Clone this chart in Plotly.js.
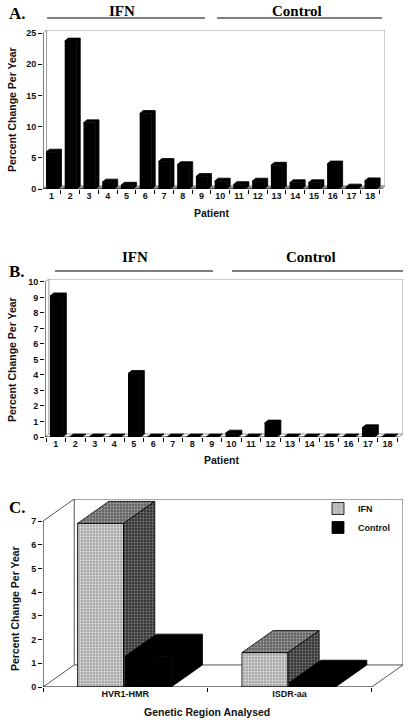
<!DOCTYPE html>
<html><head><meta charset="utf-8">
<script src="https://cdn.plot.ly/plotly-3.0.1.min.js"></script>
<style>html,body{margin:0;padding:0;background:#fff}#chart{width:411px;height:723px}</style>
</head><body><div id="chart"></div>
<script>
// ---------- DATA ----------
const patients = [1,2,3,4,5,6,7,8,9,10,11,12,13,14,15,16,17,18];
const groupNames = ['IFN', 'Control'];
const valuesA = [5.9, 23.7, 10.6, 1.1, 0.6, 12.1, 4.4, 3.9, 2.0, 1.25, 0.7, 1.25, 3.8, 1.0, 1.0, 4.0, 0.3, 1.3];
const valuesB = [9.1, 0, 0, 0, 4.1, 0, 0, 0, 0, 0.25, 0, 0.9, 0, 0, 0, 0, 0.6, 0];
const regions = ['HVR1-HMR', 'ISDR-aa'];
const ifnC = [6.9, 1.45];
const controlC = [1.3, 0.2];
const yTicksA = [0, 5, 10, 15, 20, 25];
const yTicksB = [0, 1, 2, 3, 4, 5, 6, 7, 8, 9, 10];
const yTicksC = [0, 1, 2, 3, 4, 5, 6, 7];
const panelLetters = ['A.', 'B.', 'C.'];
const yTitle = 'Percent Change Per Year';
const xTitleAB = 'Patient';
const xTitleC = 'Genetic Region Analysed';

// ---------- STYLE / GEOMETRY ----------
const W = 411, H = 723;
const px = x => x / W, py = y => 1 - y / H;
const tickFont = {family: 'Liberation Sans, Arial, sans-serif', size: 9, weight: 'bold', color: '#111'};
const titleFont = {family: 'Liberation Sans, Arial, sans-serif', size: 10.5, weight: 'bold', color: '#111'};
const serifFont = {family: 'Liberation Serif, Times New Roman, serif', size: 15, weight: 'bold', color: '#000'};

// panel 3D geometry (depth in data units)
const gA = {L: 0.542, R: 18.6, dx: 0.19, dy: 0.48, top: 25, off: -0.3, w: 0.64};
const gB = {L: 0.444, R: 18.6, dx: 0.2, dy: 0.19, top: 10, off: -0.3, w: 0.64};
const gC = {L: -0.5, R: 1.5, dx: 0.19, dy: 0.93, top: 7, offI: -0.29, offC: 0.0, w: 0.28};

function faces(xs, vs, off, w, dx, dy) {
  const top = {x: [], y: []}, side = {x: [], y: []}, solid = {x: [], y: []};
  xs.forEach((x, i) => {
    const v = vs[i], xl = x + off, xr = x + off + w;
    top.x.push(xl, xl + dx, xr + dx, xr, xl, null);
    top.y.push(v, v + dy, v + dy, v, v, null);
    side.x.push(xr, xr + dx, xr + dx, xr, xr, null);
    side.y.push(v, v + dy, dy, 0, v, null);
    solid.x.push(xl, xl + dx, xr + dx, xr + dx, xr, xr, xl, null);
    solid.y.push(v, v + dy, v + dy, dy, 0, v, v, null);
  });
  return {top, side, solid};
}
function poly(f, xa, ya, fill, lineColor, pattern) {
  const t = {x: f.x, y: f.y, xaxis: xa, yaxis: ya, type: 'scatter', mode: 'lines', fill: 'toself',
    fillcolor: fill, line: {color: lineColor, width: 0.8}, hoverinfo: 'skip', showlegend: false};
  if (pattern) t.fillpattern = pattern;
  return t;
}

const fA = faces(patients, valuesA, gA.off, gA.w, gA.dx, gA.dy);
const fB = faces(patients, valuesB, gB.off, gB.w, gB.dx, gB.dy);
const idxC = regions.map((_, i) => i);
const fCi = faces(idxC, ifnC, gC.offI, gC.w, gC.dx, gC.dy);
const fCc = faces(idxC, controlC, gC.offC, gC.w, gC.dx, gC.dy);

const dots = (bg, fg, sol) => ({shape: '.', bgcolor: bg, fgcolor: fg, size: 3, solidity: sol});

const traces = [
  // Panel A
  {type: 'bar', x: patients, y: valuesA, xaxis: 'x', yaxis: 'y', offset: gA.off, width: gA.w,
   marker: {color: '#000'}, showlegend: false, hoverinfo: 'x+y'},
  poly(fA.solid, 'x', 'y', '#000', '#000'),
  // Panel B
  {type: 'bar', x: patients, y: valuesB, xaxis: 'x2', yaxis: 'y2', offset: gB.off, width: gB.w,
   marker: {color: '#000'}, showlegend: false, hoverinfo: 'x+y'},
  poly(fB.solid, 'x2', 'y2', '#000', '#000'),
  // Panel C - IFN
  {type: 'bar', name: groupNames[0], x: idxC, y: ifnC, xaxis: 'x3', yaxis: 'y3', offset: gC.offI, width: gC.w,
   marker: {color: '#aaaaaa', line: {color: '#000', width: 0.8}, pattern: dots('#aaaaaa', '#e4e4e4', 0.3)},
   showlegend: true, hovertext: regions, hoverinfo: 'text+y'},
  poly(fCi.top, 'x3', 'y3', '#646464', '#000', dots('#646464', '#a8a8a8', 0.3)),
  poly(fCi.side, 'x3', 'y3', '#363636', '#000', dots('#363636', '#808080', 0.3)),
  // Panel C - Control (overlay so it is drawn in front)
  {type: 'bar', name: groupNames[1], x: idxC, y: controlC, xaxis: 'x3', yaxis: 'y5', offset: gC.offC, width: gC.w,
   marker: {color: '#000', line: {color: '#000', width: 0.8}}, showlegend: true, hovertext: regions, hoverinfo: 'text+y'},
  poly(fCc.solid, 'x3', 'y5', '#000', '#000'),
];

function frameShapes(g, xr, yr, floorFill, wallColor) {
  const s = [];
  if (floorFill) s.push({type: 'path', xref: xr, yref: yr, layer: 'below',
    path: `M ${g.L},0 L ${g.L + g.dx},${g.dy} L ${g.R + g.dx},${g.dy} L ${g.R},0 Z`,
    fillcolor: floorFill, line: {color: floorFill, width: 0.5}});
  s.push({type: 'rect', xref: xr, yref: yr, layer: 'below', x0: g.L + g.dx, x1: g.R + g.dx, y0: g.dy, y1: g.top + g.dy,
    line: {color: wallColor, width: 1}});
  s.push({type: 'line', xref: xr, yref: yr, x0: g.L, y0: g.top, x1: g.L + g.dx, y1: g.top + g.dy, line: {color: wallColor, width: 1}});
  s.push({type: 'line', xref: xr, yref: yr, x0: g.L, y0: 0, x1: g.L + g.dx, y1: g.dy, line: {color: wallColor, width: 1}});
  s.push({type: 'line', xref: xr, yref: yr, x0: g.R, y0: 0, x1: g.R + g.dx, y1: g.dy, line: {color: wallColor, width: 1}});
  s.push({type: 'line', xref: xr, yref: yr, x0: g.L, y0: 0, x1: g.L, y1: g.top, line: {color: '#000', width: 1}});
  s.push({type: 'line', xref: xr, yref: yr, x0: g.L, y0: 0, x1: g.R, y1: 0, line: {color: '#000', width: 1}});
  return s;
}
const hline = (x0, x1, y) => ({type: 'line', xref: 'paper', yref: 'paper', x0: px(x0), x1: px(x1), y0: py(y), y1: py(y),
  line: {color: '#000', width: 1.2}});

const shapes = [].concat(
  frameShapes(gA, 'x', 'y', '#8c8c8c', '#9a9a9a'),
  frameShapes(gB, 'x2', 'y2', null, '#9a9a9a'),
  frameShapes(gC, 'x3', 'y3', null, '#555'),
  [hline(47, 205, 18), hline(217, 382, 18), hline(55, 213, 271), hline(232, 403, 271)]
);

const ann = (text, x, y, font, opts) => Object.assign({text, x: px(x), y: py(y), xref: 'paper', yref: 'paper',
  showarrow: false, font, xanchor: 'center', yanchor: 'middle'}, opts || {});
const letterFont = Object.assign({}, serifFont, {size: 17});
const annotations = [
  ann(panelLetters[0], 7, 13, letterFont, {xanchor: 'left'}),
  ann(groupNames[0], 122, 11, serifFont), ann(groupNames[1], 297, 11, serifFont),
  ann(yTitle, 12, 110, titleFont, {textangle: -90}),
  ann(xTitleAB, 212, 213, titleFont),
  ann(panelLetters[1], 7, 271, letterFont, {xanchor: 'left'}),
  ann(groupNames[0], 135, 257, serifFont), ann(groupNames[1], 311, 257, serifFont),
  ann(yTitle, 12, 360, titleFont, {textangle: -90}),
  ann(xTitleAB, 222, 460, titleFont),
  ann(panelLetters[2], 7, 508, letterFont, {xanchor: 'left'}),
  ann(yTitle, 15, 609, titleFont, {textangle: -90}),
  ann(xTitleC, 207, 712, titleFont),
];

const bounds = (vals) => vals.map(v => v - 0.5).concat([vals[vals.length - 1] + 0.5]);
const baseX = {showgrid: false, zeroline: false, showline: false, fixedrange: true, tickfont: tickFont, ticks: ''};
const baseY = {showgrid: false, zeroline: false, showline: false, fixedrange: true, tickfont: tickFont,
  ticks: 'outside', ticklen: 4, tickwidth: 1, tickcolor: '#000', tickmode: 'array'};

const layout = {
  width: W, height: H, margin: {l: 0, r: 0, t: 0, b: 0},
  paper_bgcolor: '#fff', plot_bgcolor: 'rgba(0,0,0,0)',
  showlegend: true, barmode: 'overlay',
  legend: {x: px(318), y: py(494), xanchor: 'left', yanchor: 'top', bgcolor: 'rgba(0,0,0,0)',
    font: {family: 'Liberation Sans, Arial, sans-serif', size: 9, weight: 'bold', color: '#111'},
    itemwidth: 30, tracegroupgap: 0},
  xaxis: Object.assign({}, baseX, {domain: [px(43), px(385)], range: [gA.L, gA.R + gA.dx], anchor: 'y',
    tickmode: 'array', tickvals: patients, ticktext: patients.map(String),
    minor: {tickmode: 'array', tickvals: bounds(patients), ticks: 'outside', ticklen: 4, tickcolor: '#000', tickwidth: 1}}),
  yaxis: Object.assign({}, baseY, {domain: [py(189), py(30)], range: [0, gA.top + gA.dy], anchor: 'x', tickvals: yTicksA}),
  xaxis2: Object.assign({}, baseX, {domain: [px(45), px(403)], range: [gB.L, gB.R + gB.dx], anchor: 'y2',
    tickmode: 'array', tickvals: patients, ticktext: patients.map(String),
    minor: {tickmode: 'array', tickvals: bounds(patients), ticks: 'outside', ticklen: 4, tickcolor: '#000', tickwidth: 1}}),
  yaxis2: Object.assign({}, baseY, {domain: [py(437), py(279)], range: [0, gB.top + gB.dy], anchor: 'x2', tickvals: yTicksB}),
  xaxis3: Object.assign({}, baseX, {domain: [px(43), px(403)], range: [gC.L, gC.R + gC.dx], anchor: 'y3',
    tickmode: 'array', tickvals: idxC, ticktext: regions,
    minor: {tickmode: 'array', tickvals: bounds(idxC), ticks: 'outside', ticklen: 4, tickcolor: '#000', tickwidth: 1}}),
  yaxis3: Object.assign({}, baseY, {domain: [py(687), py(499)], range: [0, gC.top + gC.dy], anchor: 'x3', tickvals: yTicksC}),
  yaxis5: {overlaying: 'y3', range: [0, gC.top + gC.dy], visible: false, fixedrange: true, anchor: 'x3'},
  shapes, annotations,
};

Plotly.newPlot('chart', traces, layout, {displayModeBar: false, staticPlot: true});
</script>
</body></html>
